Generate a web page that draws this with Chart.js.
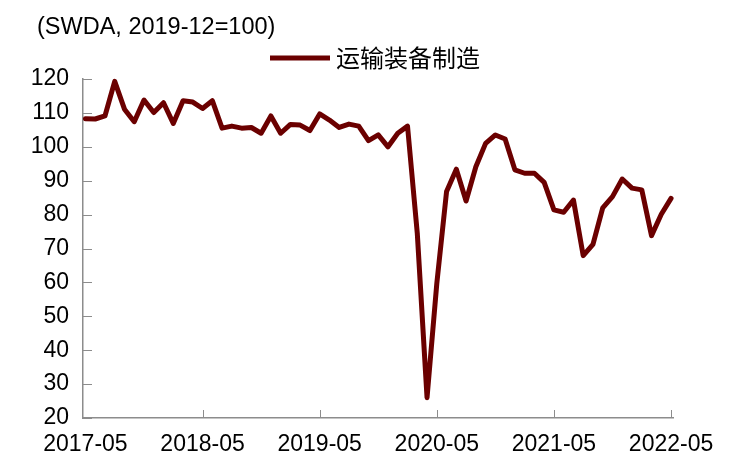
<!DOCTYPE html>
<html>
<head>
<meta charset="utf-8">
<script src="https://cdn.jsdelivr.net/npm/chart.js@4.4.1/dist/chart.umd.min.js"></script>
<style>
  html, body { margin: 0; padding: 0; background: #fff; }
</style>
</head>
<body>
<canvas id="chart" width="730" height="471"></canvas>
<script>
// 月份：2017-05 到 2022-05
const months = [];
for (let y = 2017, m = 5; y < 2022 || (y === 2022 && m <= 5); m++) {
    if (m > 12) { m = 1; y++; }
    months.push(y + '-' + String(m).padStart(2, '0'));
}

// 运输装备制造 (SWDA, 2019-12=100)
const transportEquip = [
    108.3, 108.2, 109.1, 119.3, 111.1, 107.4, 113.8, 110.1, 113.0, 106.9,
    113.6, 113.2, 111.3, 113.6, 105.5, 106.1, 105.5, 105.7, 104.0, 109.1,
    104.0, 106.6, 106.4, 104.8, 109.7, 107.9, 105.7, 106.7, 106.1, 101.8,
    103.5, 100.0, 104.0, 106.1, 74.5, 26.0, 59.7, 86.8, 93.4, 84.0,
    94.1, 101.0, 103.5, 102.3, 93.2, 92.2, 92.2, 89.5, 81.4, 80.7,
    84.3, 67.9, 71.2, 82.0, 85.3, 90.5, 87.8, 87.3, 73.8, 80.1,
    84.8
];

const xTickIdx = [0, 12, 24, 36, 48, 60]; // 每年 5 月
const yTicks = [20, 30, 40, 50, 60, 70, 80, 90, 100, 110, 120];
const titleText = '(SWDA, 2019-12=100)';
const seriesName = '运输装备制造';

const lineColor = '#6b0000';
const axisColor = '#8c8c8c';
const latinFont = '"Liberation Sans", Arial, sans-serif';
const cjkFont = '"Noto Sans CJK SC", sans-serif';

// 刻度线朝内，标题和图例手动画
const decor = {
    id: 'decor',
    beforeDatasetsDraw(chart) {
        const ctx = chart.ctx;
        const xs = chart.scales.x, ys = chart.scales.y;
        ctx.save();
        ctx.strokeStyle = axisColor;
        ctx.lineWidth = 1;
        ctx.beginPath();
        ys.ticks.forEach(t => {
            const py = Math.round(ys.getPixelForValue(t.value)) + 0.5;
            ctx.moveTo(xs.left, py);
            ctx.lineTo(xs.left + 9, py);
        });
        xTickIdx.forEach(i => {
            if (i === 0) return;
            const px = Math.round(xs.getPixelForValue(i)) + 0.5;
            ctx.moveTo(px, ys.bottom);
            ctx.lineTo(px, ys.bottom - 8);
        });
        ctx.stroke();
        ctx.restore();
    },
    afterDraw(chart) {
        const ctx = chart.ctx;
        ctx.save();
        ctx.fillStyle = '#000';
        ctx.textBaseline = 'middle';
        ctx.font = '23.5px ' + latinFont;
        ctx.fillText(titleText, 37, 28);

        ctx.strokeStyle = chart.data.datasets[0].borderColor;
        ctx.lineWidth = 5;
        ctx.beginPath();
        ctx.moveTo(270, 58);
        ctx.lineTo(330, 58);
        ctx.stroke();
        ctx.font = '24px ' + cjkFont;
        ctx.fillText(seriesName, 336, 58);
        ctx.restore();
    }
};

new Chart(document.getElementById('chart'), {
    type: 'line',
    data: {
        labels: months,
        datasets: [{
            label: seriesName,
            data: transportEquip.map((v, i) => ({ x: i, y: v })),
            borderColor: lineColor,
            backgroundColor: lineColor,
            borderWidth: 5,
            borderJoinStyle: 'round',
            borderCapStyle: 'round',
            pointRadius: 0,
            tension: 0,
            clip: false,
        }]
    },
    options: {
        responsive: false,
        animation: false,
        devicePixelRatio: 1,
        layout: { padding: { top: 79, right: 57, left: 0, bottom: 0 } },
        plugins: {
            legend: { display: false },
            title: { display: false },
            tooltip: { enabled: false }
        },
        scales: {
            x: {
                type: 'linear',
                min: -0.25,
                max: 60.2,
                afterBuildTicks: s => { s.ticks = xTickIdx.map(v => ({ value: v })); },
                grid: { display: false },
                border: { display: true, color: axisColor, width: 1.5 },
                ticks: {
                    maxRotation: 0,
                    padding: 5,
                    color: '#000',
                    font: { family: latinFont, size: 23 },
                    callback: v => months[v]
                },
                afterFit: s => { s.height = 53; }
            },
            y: {
                min: 20,
                max: 120,
                afterBuildTicks: s => { s.ticks = yTicks.map(v => ({ value: v })); },
                grid: { display: false },
                border: { display: true, color: axisColor, width: 1.5 },
                ticks: {
                    padding: 6,
                    color: '#000',
                    font: { family: latinFont, size: 23 }
                },
                afterFit: s => { s.width = 83; }
            }
        }
    },
    plugins: [decor]
});
</script>
</body>
</html>
